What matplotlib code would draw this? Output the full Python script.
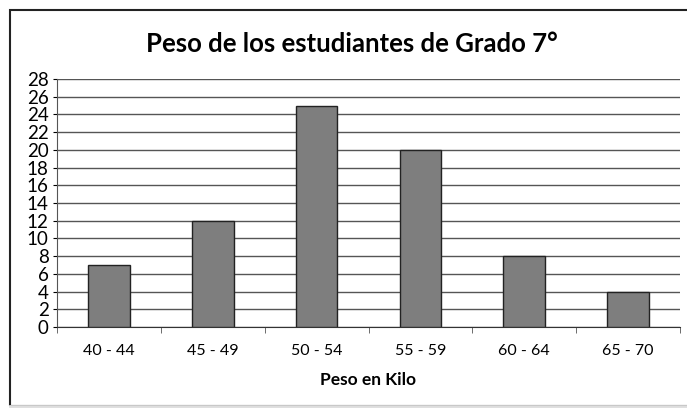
import matplotlib
matplotlib.use("Agg")
import matplotlib.pyplot as plt
from matplotlib.patches import Rectangle
from matplotlib.lines import Line2D

plt.rcParams['font.family'] = ['Lato', 'DejaVu Sans']

# weight ranges and number of students
rangos = ["40 - 44", "45 - 49", "50 - 54", "55 - 59", "60 - 64", "65 - 70"]
estudiantes = [7, 12, 25, 20, 8, 4]
yticks = list(range(0, 29, 2))

fig = plt.figure(figsize=(6.87, 4.08), dpi=100)
ax = fig.add_axes([57 / 687, 1 - 327 / 408, 623 / 687, 248 / 408])

# outer frame of the chart (right side runs off the scan)
fig.patches.append(Rectangle((10 / 687, 2 / 408), 1.0, 1 - 12 / 408,
                             transform=fig.transFigure, fill=False,
                             edgecolor="#222222", linewidth=1.5))
fig.lines.append(Line2D([10 / 687, 1], [2 / 408, 2 / 408],
                        transform=fig.transFigure, color="#dddddd", lw=2))

x = list(range(len(rangos)))
ax.bar(x, estudiantes, width=0.4, color="#7e7e7e", edgecolor="#222222",
       linewidth=1.0, zorder=3)

ax.set_xlim(-0.5, len(rangos) - 0.5)
ax.set_ylim(0, 28)
ax.set_yticks(yticks)
ax.set_yticklabels([str(t) for t in yticks], fontsize=13.5)
ax.set_xticks(x)
ax.set_xticklabels(rangos, fontsize=11.5)
ax.tick_params(axis="x", length=0, pad=12)
ax.tick_params(axis="y", length=3, pad=3)

# separator ticks between categories
ax.set_xticks([i - 0.5 for i in range(len(rangos) + 1)], minor=True)
ax.tick_params(axis="x", which="minor", length=4, color="#555555")

ax.yaxis.grid(True, color="#555555", linewidth=1.0, zorder=0)
for side in ["top", "right"]:
    ax.spines[side].set_visible(False)
ax.spines["left"].set_color("#555555")
ax.spines["bottom"].set_color("#333333")

fig.text(352 / 687, 1 - 44 / 408, "Peso de los estudiantes de Grado 7°",
         ha="center", va="center", fontsize=18.5, fontweight="bold")
ax.set_xlabel("Peso en Kilo", fontsize=12.5, fontweight="bold", labelpad=10)

fig.savefig("out.png", dpi=100)
